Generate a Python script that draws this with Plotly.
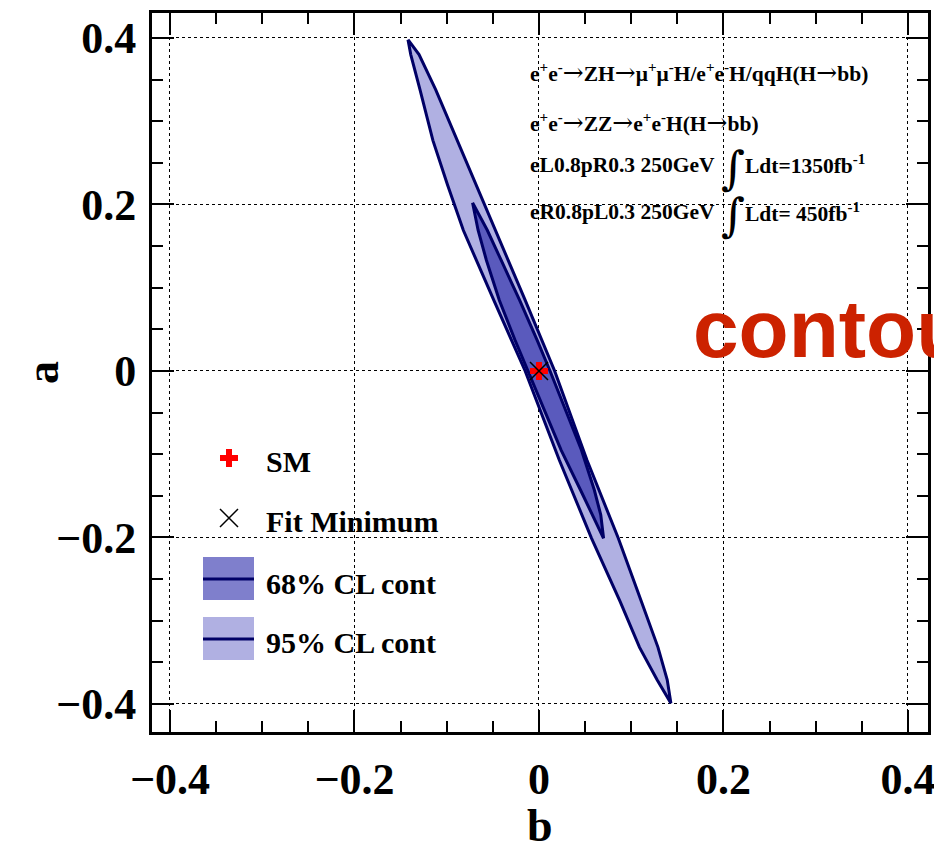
import plotly.graph_objects as go

# ---------------- data ----------------
# 95% CL contour in the (b, a) plane
b95 = [-0.142, -0.139, -0.129, -0.115, -0.099, -0.082, -0.049, -0.015, 0.022, 0.057,
       0.088, 0.109, 0.128, 0.143, 0.139, 0.129, 0.111, 0.086, 0.052, 0.017,
       -0.015, -0.047, -0.086, -0.112, -0.130, -0.142]
a95 = [0.398, 0.380, 0.338, 0.277, 0.223, 0.169, 0.085, 0.000, -0.107, -0.201,
       -0.277, -0.332, -0.371, -0.399, -0.371, -0.332, -0.277, -0.201, -0.107, 0.000,
       0.085, 0.169, 0.271, 0.338, 0.380, 0.398]
# 68% CL contour
b68 = [-0.072, -0.066, -0.057, -0.043, -0.026, -0.012, 0.006, 0.024, 0.045, 0.058,
       0.070, 0.067, 0.060, 0.046, 0.029, 0.012, -0.002, -0.021, -0.041, -0.056, -0.072]
a68 = [0.202, 0.169, 0.133, 0.085, 0.037, 0.000, -0.047, -0.095, -0.143, -0.173,
       -0.201, -0.173, -0.143, -0.095, -0.047, 0.000, 0.037, 0.085, 0.133, 0.169, 0.202]
# points
sm_b, sm_a = [0.0], [0.0]
fit_b, fit_a = [0.0], [0.0]

x_ticks = [-0.4, -0.2, 0.0, 0.2, 0.4]
y_ticks = [-0.4, -0.2, 0.0, 0.2, 0.4]
tick_text = ["−0.4", "−0.2", "0", "0.2", "0.4"]
x_range = [-0.4195, 0.4217]
y_range = [-0.4337, 0.4300]

legend_labels = ["SM", "Fit Minimum", "68% CL cont", "95% CL cont"]
ARW = "<span style='font-family:DejaVu Serif;font-weight:normal;font-size:25px'>→</span>"
info_lines = [
    "e<sup>+</sup>e<sup>-</sup>" + ARW + "ZH" + ARW + "μ<sup>+</sup>μ<sup>-</sup>H/e<sup>+</sup>e<sup>-</sup>H/qqH(H" + ARW + "bb)",
    "e<sup>+</sup>e<sup>-</sup>" + ARW + "ZZ" + ARW + "e<sup>+</sup>e<sup>-</sup>H(H" + ARW + "bb)",
    "eL0.8pR0.3 250GeV",
    "eR0.8pL0.3 250GeV",
]
lumi_lines = ["Ldt=1350fb<sup>-1</sup>", "Ldt= 450fb<sup>-1</sup>"]

# ---------------- styles ----------------
NAVY = "#000066"
C68_PLOT = "#5a5abd"
C68_LEG = "#7f7fcc"
C95 = "#b0b0e2"
SERIF = "Liberation Serif"

W, H = 934, 849
ML, MR, MT, MB = 152, 6, 13, 117
PW, PH = W - ML - MR, H - MT - MB


def px(x):
    return (x - ML) / PW


def py(y):
    return 1 - (y - MT) / PH


fig = go.Figure()

fig.add_trace(go.Scatter(x=b95, y=a95, mode="lines", fill="toself", fillcolor=C95,
                         line=dict(color=NAVY, width=3), hoverinfo="skip"))
fig.add_trace(go.Scatter(x=b68, y=a68, mode="lines", fill="toself", fillcolor=C68_PLOT,
                         line=dict(color=NAVY, width=3), hoverinfo="skip"))
fig.add_trace(go.Scatter(x=sm_b, y=sm_a, mode="markers",
                         marker=dict(symbol="cross", size=15, color="red", line=dict(width=0))))
fig.add_trace(go.Scatter(x=fit_b, y=fit_a, mode="markers",
                         marker=dict(symbol="x-thin-open", size=18, color="black",
                                     line=dict(color="black", width=1.5))))

# legend glyphs (markers) drawn in paper space via a helper axis
fig.add_trace(go.Scatter(x=[px(229)], y=[py(458)], xaxis="x2", yaxis="y2", mode="markers",
                         marker=dict(symbol="cross", size=15, color="red", line=dict(width=0))))
fig.add_trace(go.Scatter(x=[px(229)], y=[py(518)], xaxis="x2", yaxis="y2", mode="markers",
                         marker=dict(symbol="x-thin-open", size=18, color="black",
                                     line=dict(color="black", width=1.5))))

axis_common = dict(
    showline=True, linecolor="black", linewidth=3, mirror="ticks",
    ticks="inside", ticklen=22, tickwidth=2, tickcolor="black",
    showgrid=True, gridcolor="black", griddash="dot", gridwidth=1,
    zeroline=False, automargin=False, ticklabeloverflow="allow",
    minor=dict(dtick=0.05, ticks="inside", ticklen=11, tickwidth=2, tickcolor="black",
               showgrid=False),
    tickfont=dict(family=SERIF, size=44, color="black", weight="bold"),
)

fig.update_layout(
    width=W, height=H,
    margin=dict(l=ML, r=MR, t=MT, b=MB, autoexpand=False),
    paper_bgcolor="white", plot_bgcolor="white",
    showlegend=False,
    xaxis=dict(range=x_range, tickvals=x_ticks, ticktext=tick_text,
               ticklabelstandoff=6, **axis_common),
    yaxis=dict(range=y_range, tickvals=y_ticks, ticktext=tick_text,
               ticklabelstandoff=4, **axis_common),
    xaxis2=dict(range=[0, 1], overlaying="x", visible=False, domain=[0, 1], automargin=False),
    yaxis2=dict(range=[0, 1], overlaying="y", visible=False, automargin=False),
)

shapes = []
# legend boxes
for (y0, y1, ym, col) in [(557, 600, 579, C68_LEG), (617, 660, 639, C95)]:
    shapes.append(dict(type="rect", xref="paper", yref="paper", x0=px(203), x1=px(254),
                       y0=py(y1), y1=py(y0), fillcolor=col, line=dict(width=0), layer="above"))
    shapes.append(dict(type="line", xref="paper", yref="paper", x0=px(203), x1=px(254),
                       y0=py(ym), y1=py(ym), line=dict(color=NAVY, width=3), layer="above"))
fig.update_layout(shapes=shapes)

ann = []
# legend texts
for lab, yy in zip(legend_labels, [461, 521, 583, 642]):
    ann.append(dict(text=lab, x=px(264), y=py(yy), xref="paper", yref="paper",
                    xanchor="left", yanchor="middle", showarrow=False,
                    font=dict(family=SERIF, size=30, color="black", weight="bold")))
# info text
for line, yy in zip(info_lines, [72, 122, 165, 212]):
    ann.append(dict(text=line, x=px(528), y=py(yy), xref="paper", yref="paper",
                    xanchor="left", yanchor="middle", showarrow=False,
                    font=dict(family=SERIF, size=21.5, color="black", weight="bold")))
for line, yy in zip(lumi_lines, [165, 212]):
    ann.append(dict(text="∫", x=px(733), y=py(yy + 3), xref="paper", yref="paper",
                    xanchor="center", yanchor="middle", showarrow=False,
                    font=dict(family="DejaVu Serif", size=46, color="black")))
    ann.append(dict(text=line, x=px(743), y=py(yy), xref="paper", yref="paper",
                    xanchor="left", yanchor="middle", showarrow=False,
                    font=dict(family=SERIF, size=21.5, color="black", weight="bold")))
# big red label
ann.append(dict(text="contour", x=px(691), y=py(328), xref="paper", yref="paper",
                xanchor="left", yanchor="middle", showarrow=False,
                font=dict(family="Liberation Sans", size=82, color="#cc2200", weight="bold")))
# axis titles
ann.append(dict(text="b", x=px(540), y=py(825), xref="paper", yref="paper",
                xanchor="center", yanchor="middle", showarrow=False,
                font=dict(family=SERIF, size=46, color="black", weight="bold")))
ann.append(dict(text="a", x=px(42), y=py(373), xref="paper", yref="paper",
                xanchor="center", yanchor="middle", showarrow=False, textangle=-90,
                font=dict(family=SERIF, size=46, color="black", weight="bold")))
fig.update_layout(annotations=ann)

fig.write_html("out.html")
